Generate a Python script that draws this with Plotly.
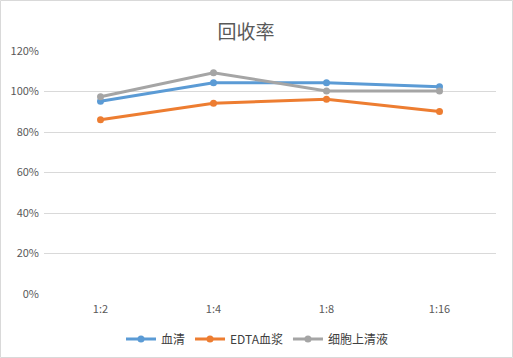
import plotly.graph_objects as go

categories = ["1:2", "1:4", "1:8", "1:16"]
serum = [0.952, 1.043, 1.043, 1.023]
edta_plasma = [0.861, 0.942, 0.962, 0.901]
cell_supernatant = [0.974, 1.093, 1.002, 1.002]
series_names = ["血清", "EDTA血浆", "细胞上清液"]
colors = ["#5B9BD5", "#ED7D31", "#A5A5A5"]

W, H = 513, 358
L, R, T, B = 44, 17, 51, 64
pw, ph = W - L - R, H - T - B

fig = go.Figure()
for name, vals, c in zip(series_names, [serum, edta_plasma, cell_supernatant], colors):
    fig.add_trace(go.Scatter(
        x=categories, y=vals, name=name, mode="lines+markers",
        line=dict(color=c, width=3), marker=dict(color=c, size=7),
    ))

def px_x(p):
    return (p - L) / pw

def px_y(p):
    return (H - B - p) / ph

fig.update_layout(
    width=W, height=H,
    margin=dict(l=L, r=R, t=T, b=B, autoexpand=False),
    paper_bgcolor="white", plot_bgcolor="white",
    font=dict(family="Noto Sans CJK SC, sans-serif", color="#595959", size=11),
    title=dict(text="回收率", x=246 / W, xanchor="center", y=1 - 32 / H, yanchor="middle",
               font=dict(size=19, color="#595959")),
    showlegend=True,
    legend=dict(orientation="h", xref="container", yref="container",
                x=257 / W, xanchor="center", y=1 - 339 / H, yanchor="middle",
                font=dict(size=12, color="#404040"), itemwidth=30, tracegroupgap=0,
                bgcolor="rgba(0,0,0,0)"),
    xaxis=dict(type="category", range=[-0.5, 3.5], showgrid=False, zeroline=False,
               showline=False, ticks="", automargin=False, ticklabelstandoff=7,
               tickfont=dict(size=11, color="#595959")),
    yaxis=dict(range=[0, 1.2], dtick=0.2, tickformat=".0%", showgrid=True,
               gridcolor="#D9D9D9", gridwidth=1, zeroline=False, showline=False,
               ticks="", automargin=False, ticklabelstandoff=4,
               tickfont=dict(size=11, color="#595959")),
    shapes=[dict(type="rect", xref="paper", yref="paper",
                 x0=px_x(0.5), x1=px_x(W - 0.5), y0=px_y(H - 0.5), y1=px_y(0.5),
                 line=dict(color="#D9D9D9", width=1), fillcolor="rgba(0,0,0,0)", layer="below")],
)

fig.write_html("out.html", config={"displayModeBar": False},
               post_script="document.body.style.margin='0';")
